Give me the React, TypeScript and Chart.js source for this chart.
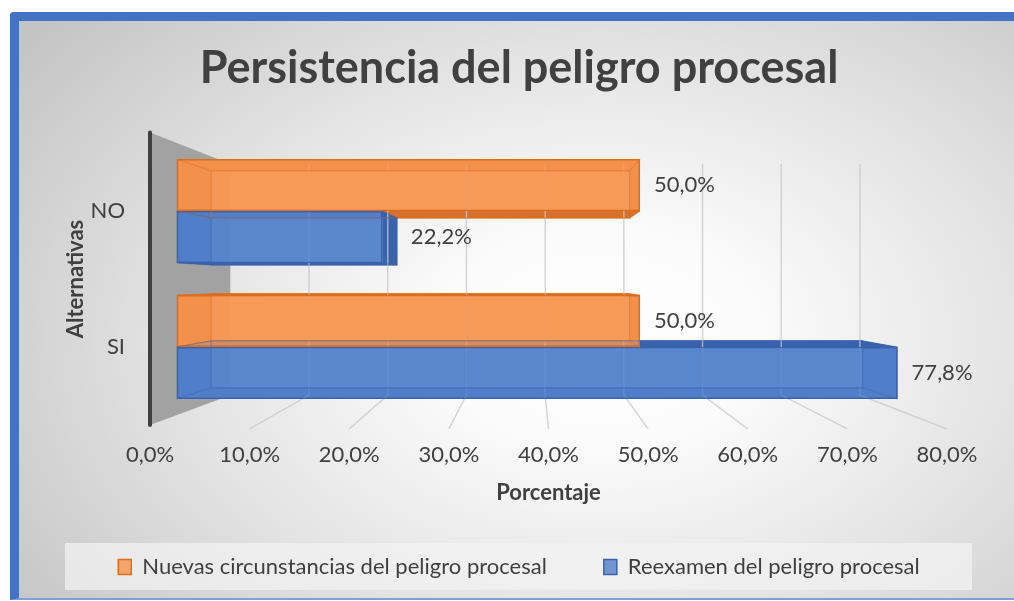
import React, { useEffect, useRef } from 'react';
import { Chart, registerables } from 'chart.js';

Chart.register(...registerables);

// ---------- data ----------
const TITLE = 'Persistencia del peligro procesal';
const CATEGORIES = ['NO', 'SI'];
const SERIES_NAMES = ['Nuevas circunstancias del peligro procesal', 'Reexamen del peligro procesal'];
const NUEVAS = [50.0, 50.0];
const REEXAMEN = [22.2, 77.8];
const X_MIN = 0;
const X_MAX = 80;
const X_STEP = 10;
const X_TITLE = 'Porcentaje';
const Y_TITLE = 'Alternativas';

// ---------- style ----------
const FONT = 'Lato';
const TEXT = '#404040';
const FS = 22;
const ORANGE_FRONT = 'rgba(247,150,82,0.84)';
const ORANGE_BACK = 'rgba(246,152,88,0.85)';
const ORANGE_SIDE = 'rgb(214,112,45)';
const ORANGE_EDGE = '#df6d18';
const BLUE_FRONT = 'rgba(86,131,205,0.84)';
const BLUE_BACK = 'rgba(90,134,206,0.85)';
const BLUE_SIDE = 'rgb(58,98,172)';
const BLUE_EDGE = '#3a63ad';

// perspective model (fractions / depth ratios)
const CX_FRAC = 0.48;
const CY_FRAC = 0.515;
const K_BAR = 0.93;
const K_BAR_BACK = 0.904;
const K_WALL = 0.79;

const fmt = (v: number) => v.toFixed(1).replace('.', ',') + '%';

function geom(chart: any) {
  const ca = chart.chartArea;
  const cx = ca.left + CX_FRAC * (ca.right - ca.left);
  const cy = ca.top + CY_FRAC * (ca.bottom - ca.top);
  const proj = (x: number, y: number, k: number) => [cx + (x - cx) * k, cy + (y - cy) * k];
  const fTop = cy + (ca.top - cy) / K_BAR;
  const fBot = cy + (ca.bottom - cy) / K_BAR;
  return { ca, cx, cy, proj, fTop, fBot };
}

function barBoxes(chart: any) {
  const out: any[] = [];
  chart.data.datasets.forEach((ds: any, di: number) => {
    const meta = chart.getDatasetMeta(di);
    meta.data.forEach((el: any, i: number) => {
      const p = el.getProps(['x', 'y', 'base', 'height'], true);
      out.push({ ds, value: ds.data[i], x0: Math.min(p.base, p.x), x1: Math.max(p.base, p.x), y0: p.y - p.height / 2, y1: p.y + p.height / 2, y: p.y });
    });
  });
  return out;
}

function poly(ctx: CanvasRenderingContext2D, pts: number[][], fill?: string, stroke?: string, lw = 1) {
  ctx.beginPath();
  ctx.moveTo(pts[0][0], pts[0][1]);
  for (let i = 1; i < pts.length; i++) ctx.lineTo(pts[i][0], pts[i][1]);
  ctx.closePath();
  if (fill) { ctx.fillStyle = fill; ctx.fill(); }
  if (stroke) { ctx.strokeStyle = stroke; ctx.lineWidth = lw; ctx.stroke(); }
}

const threeD = {
  id: 'threeD',
  beforeDraw(chart: any) {
    const lg = chart.legend;
    if (!lg || !lg.legendHitBoxes || !lg.legendHitBoxes.length) return;
    const hb = lg.legendHitBoxes[0];
    const mid = hb.top + hb.height / 2;
    const ctx = chart.ctx;
    ctx.save();
    ctx.fillStyle = 'rgba(242,242,242,0.72)';
    ctx.fillRect(lg.left + 46, mid - 24, lg.right - lg.left - 93, 47);
    ctx.restore();
  },
  beforeDatasetsDraw(chart: any) {
    const ctx = chart.ctx;
    const { proj, fTop, fBot } = geom(chart);
    const x2 = chart.scales.x2;
    const fLeft = x2.getPixelForValue(X_MIN);
    ctx.save();
    // side wall
    const wt = proj(fLeft, fTop, K_WALL);
    const wb = proj(fLeft, fBot, K_WALL);
    poly(ctx, [[fLeft, fTop], wt, wb, [fLeft, fBot]], '#a2a2a2');
    // bar back & side faces (behind the grid)
    const boxes = barBoxes(chart);
    for (const b of boxes) {
      const F = [[b.x0, b.y0], [b.x1, b.y0], [b.x1, b.y1], [b.x0, b.y1]];
      const B = F.map((p) => proj(p[0], p[1], K_BAR_BACK));
      const back = b.ds.backFace;
      const side = b.ds.sideFace;
      poly(ctx, B, back);
      poly(ctx, [F[0], F[1], B[1], B[0]], side); // top
      poly(ctx, [F[3], F[2], B[2], B[3]], side); // bottom
      poly(ctx, [F[0], F[3], B[3], B[0]], side); // left
      poly(ctx, [F[1], F[2], B[2], B[1]], side); // right
      poly(ctx, B, undefined, b.ds.borderColor, 1.2);
    }
    // back wall grid + floor lines
    ctx.strokeStyle = 'rgba(200,200,200,0.75)';
    ctx.lineWidth = 1.5;
    for (let v = X_MIN + X_STEP; v <= X_MAX + 1e-9; v += X_STEP) {
      const fx = x2.getPixelForValue(v);
      const bt = proj(fx, fTop, K_WALL);
      const bb = proj(fx, fBot, K_WALL);
      ctx.beginPath();
      ctx.moveTo(bt[0], bt[1]);
      ctx.lineTo(bb[0], bb[1]);
      ctx.lineTo(fx, fBot + 4);
      ctx.stroke();
    }
    // axis line
    ctx.strokeStyle = '#3f3f3f';
    ctx.lineWidth = 4;
    ctx.lineCap = 'round';
    ctx.beginPath();
    ctx.moveTo(fLeft, fTop);
    ctx.lineTo(fLeft, fBot);
    ctx.stroke();
    ctx.restore();
  },
  afterDatasetsDraw(chart: any) {
    const ctx = chart.ctx;
    const { proj } = geom(chart);
    ctx.save();
    for (const b of barBoxes(chart)) {
      const F = [[b.x0, b.y0], [b.x1, b.y0], [b.x1, b.y1], [b.x0, b.y1]];
      const B = F.map((p) => proj(p[0], p[1], K_BAR_BACK));
      ctx.globalAlpha = 0.45;
      ctx.strokeStyle = b.ds.borderColor;
      ctx.lineWidth = 1.2;
      poly(ctx, B, undefined, b.ds.borderColor, 1.2);
      for (let i = 0; i < 4; i++) {
        ctx.beginPath();
        ctx.moveTo(F[i][0], F[i][1]);
        ctx.lineTo(B[i][0], B[i][1]);
        ctx.stroke();
      }
      ctx.globalAlpha = 1;
      // data label
      const end = Math.max(b.x1, B[1][0]);
      ctx.fillStyle = TEXT;
      ctx.font = `${FS}px ${FONT}`;
      ctx.textAlign = 'left';
      ctx.textBaseline = 'middle';
      ctx.fillText(fmt(b.value), end + 14, b.y);
    }
    ctx.restore();
  },
};

export default function App() {
  const ref = useRef<HTMLCanvasElement>(null);
  useEffect(() => {
    const canvas = ref.current;
    if (!canvas) return;
    const ext = 1 / K_BAR - 1;
    const span = X_MAX - X_MIN;
    const chart = new Chart(canvas, {
      type: 'bar',
      data: {
        labels: CATEGORIES,
        datasets: [
          {
            label: SERIES_NAMES[0],
            data: NUEVAS,
            backgroundColor: ORANGE_FRONT,
            borderColor: ORANGE_EDGE,
            borderWidth: 1.5,
            borderSkipped: false,
            xAxisID: 'x',
            backFace: ORANGE_BACK,
            sideFace: ORANGE_SIDE,
          } as any,
          {
            label: SERIES_NAMES[1],
            data: REEXAMEN,
            backgroundColor: BLUE_FRONT,
            borderColor: BLUE_EDGE,
            borderWidth: 1.5,
            borderSkipped: false,
            xAxisID: 'x',
            backFace: BLUE_BACK,
            sideFace: BLUE_SIDE,
          } as any,
        ],
      },
      options: {
        indexAxis: 'y',
        animation: false,
        responsive: true,
        maintainAspectRatio: false,
        categoryPercentage: 0.765,
        barPercentage: 1,
        layout: { padding: { left: 0, right: 0, top: 0, bottom: 10 } },
        scales: {
          x: {
            type: 'linear',
            display: false,
            min: X_MIN - CX_FRAC * span * ext,
            max: X_MAX + (1 - CX_FRAC) * span * ext,
          },
          x2: {
            type: 'linear',
            position: 'bottom',
            min: X_MIN,
            max: X_MAX,
            grid: { display: false, drawTicks: false },
            border: { display: false },
            ticks: {
              stepSize: X_STEP,
              padding: 27,
              color: TEXT,
              font: { family: FONT, size: FS },
              callback: (v: any) => fmt(Number(v)),
            },
            title: {
              display: true,
              text: X_TITLE,
              color: TEXT,
              font: { family: FONT, size: FS, weight: 'bold' },
              padding: { top: 0, bottom: -7 },
            },
            afterFit: (s: any) => { s.height = 84; },
          } as any,
          y: {
            type: 'category',
            position: 'left',
            grid: { display: false, drawTicks: false },
            border: { display: false },
            ticks: { color: TEXT, font: { family: FONT, size: FS }, padding: 25 },
            title: {
              display: true,
              text: Y_TITLE,
              color: TEXT,
              font: { family: FONT, size: FS, weight: 'bold' },
              padding: { top: 44, bottom: 0 },
            },
            afterFit: (s: any) => { s.width = 131; },
          } as any,
          yR: {
            type: 'linear',
            position: 'right',
            display: true,
            grid: { display: false, drawTicks: false },
            border: { display: false },
            ticks: { display: false },
            afterFit: (s: any) => { s.width = 72; },
          } as any,
        },
        plugins: {
          title: {
            display: true,
            text: TITLE,
            color: TEXT,
            font: { family: FONT, size: 45, weight: 'bold' },
            padding: { top: 20, bottom: 48 },
          },
          legend: {
            display: true,
            position: 'bottom',
            labels: {
              color: TEXT,
              font: { family: FONT, size: FS },
              boxWidth: 13,
              boxHeight: 15,
              padding: 57,
            },
          },
          tooltip: { enabled: false },
        },
      } as any,
      plugins: [threeD],
    });
    return () => chart.destroy();
  }, []);

  return (
    <div style={{ position: 'fixed', left: 0, top: 0, width: 1014, height: 601, overflow: 'hidden', background: '#ffffff' }}>
      <div
        style={{
          position: 'absolute',
          left: 10,
          top: 12,
          width: 1000,
          height: 577,
          borderTop: '9px solid #4472c4',
          borderLeft: '9px solid #4472c4',
          borderRight: '9px solid #4472c4',
          borderBottom: '2px solid #7f9fd8',
          borderTopLeftRadius: 4,
          background: 'radial-gradient(ellipse 72% 85% at 58% 55%, #ffffff 0%, #fbfbfb 22%, #e2e2e2 60%, #c4c4c4 100%)',
        }}
      >
        <div style={{ position: 'relative', width: 1000, height: 577 }}>
          <canvas ref={ref} />
        </div>
      </div>
    </div>
  );
}
